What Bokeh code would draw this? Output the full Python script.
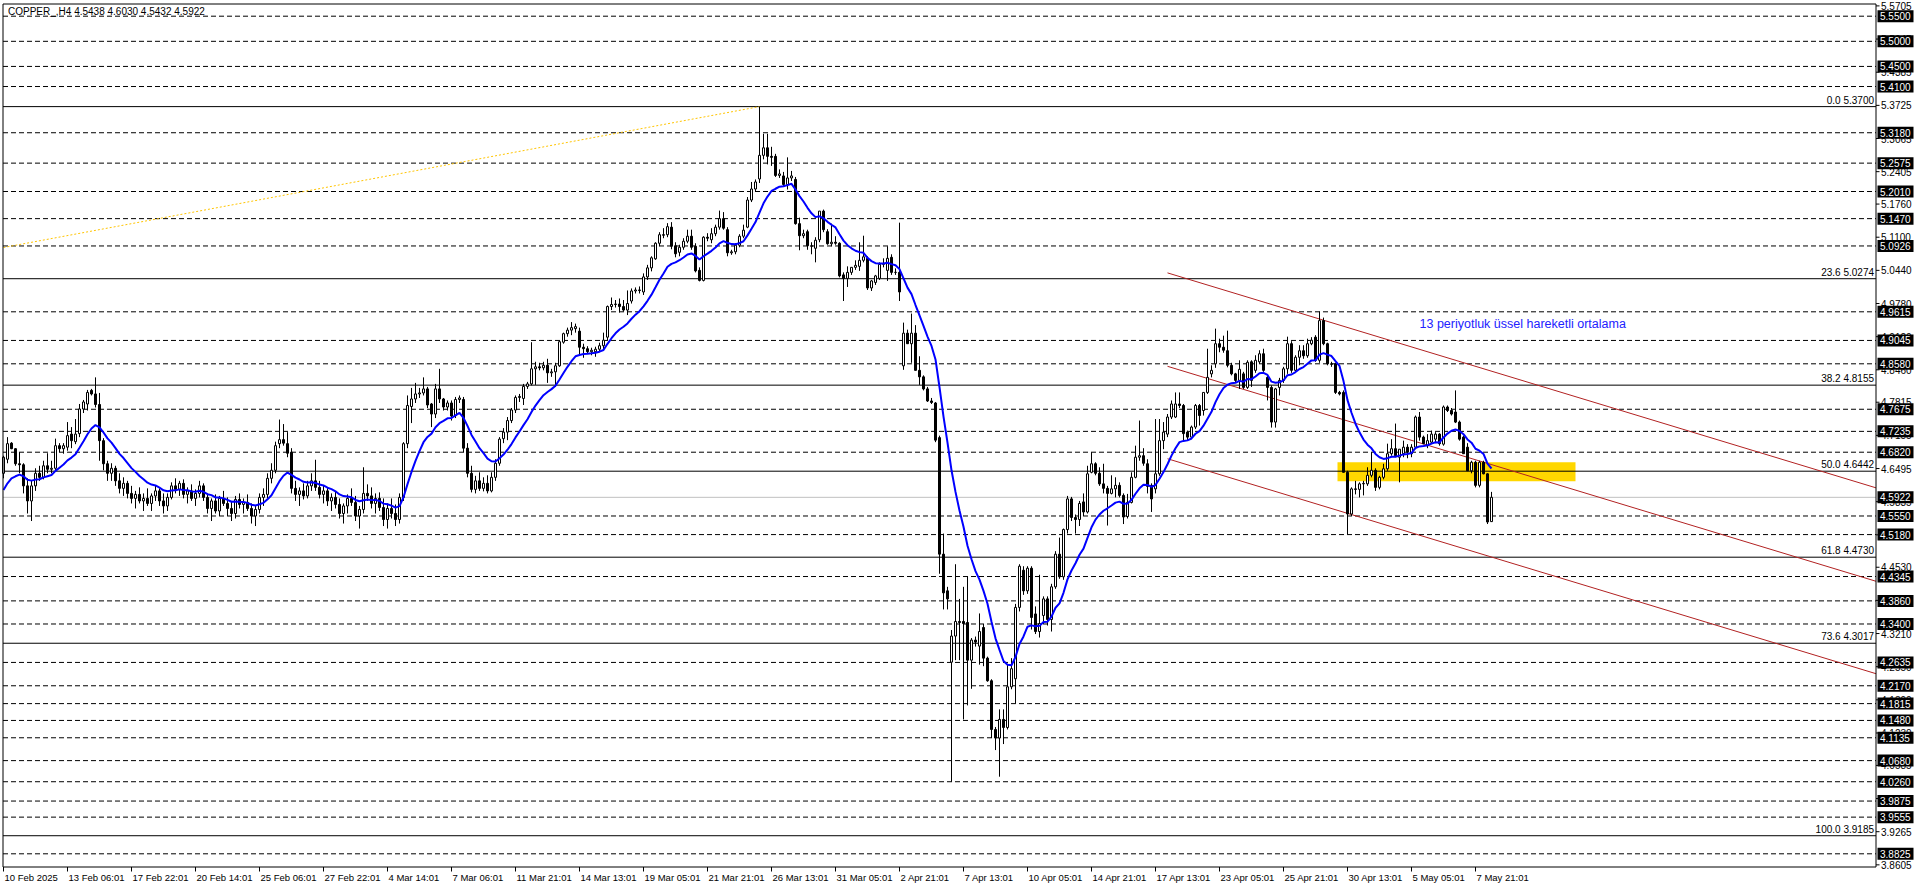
import pandas as pd
from bokeh.plotting import figure
from bokeh.models import Range1d
from bokeh.core.properties import value
from bokeh.embed import file_html
from bokeh.resources import INLINE

# ---------------- data ----------------
opens = [
4.640,4.668,4.700,4.689,4.659,4.657,4.615,4.585,4.615,4.640,
4.632,4.655,4.648,4.650,4.695,4.689,4.692,4.718,4.703,4.719,
4.768,4.778,4.805,4.798,4.777,4.705,4.659,4.640,4.650,4.625,
4.610,4.620,4.600,4.590,4.598,4.585,4.590,4.580,4.595,4.605,
4.585,4.575,4.592,4.615,4.608,4.620,4.598,4.605,4.590,4.600,
4.615,4.592,4.570,4.585,4.565,4.590,4.580,4.570,4.560,4.588,
4.578,4.582,4.570,4.555,4.568,4.592,4.598,4.630,4.646,4.699,
4.707,4.699,4.682,4.610,4.598,4.605,4.595,4.615,4.625,4.612,
4.598,4.605,4.585,4.592,4.578,4.560,4.575,4.590,4.582,4.555,
4.568,4.600,4.595,4.580,4.590,4.572,4.548,4.570,4.560,4.548,
4.592,4.699,4.773,4.788,4.798,4.800,4.808,4.778,4.758,4.808,
4.788,4.772,4.780,4.755,4.787,4.787,4.690,4.640,4.608,4.625,
4.610,4.620,4.605,4.632,4.660,4.709,4.722,4.745,4.766,4.791,
4.789,4.813,4.818,4.848,4.852,4.850,4.855,4.840,4.842,4.854,
4.901,4.918,4.925,4.928,4.923,4.891,4.888,4.882,4.882,4.887,
4.894,4.911,4.972,4.976,4.977,4.972,4.965,4.983,5.003,5.005,
5.001,5.031,5.049,5.067,5.098,5.115,5.115,5.130,5.093,5.080,
5.090,5.102,5.112,5.092,5.044,5.024,5.110,5.105,5.117,5.130,
5.147,5.125,5.079,5.081,5.094,5.112,5.130,5.184,5.206,5.226,
5.273,5.288,5.271,5.271,5.233,5.232,5.215,5.228,5.225,5.137,
5.113,5.121,5.093,5.088,5.105,5.162,5.121,5.097,5.100,5.098,
5.035,5.028,5.040,5.050,5.052,5.064,5.068,5.009,5.020,5.028,
5.056,5.044,5.070,5.040,5.040,4.854,4.919,4.898,4.919,4.845,
4.832,4.808,4.784,4.780,4.711,4.479,4.406,4.264,4.316,4.345,
4.345,4.343,4.268,4.308,4.296,4.333,4.272,4.227,4.130,4.113,
4.150,4.134,4.215,4.231,4.373,4.447,4.406,4.451,4.360,4.325,
4.357,4.390,4.349,4.414,4.479,4.434,4.528,4.589,4.552,4.548,
4.583,4.563,4.642,4.659,4.640,4.619,4.610,4.600,4.609,4.616,
4.596,4.554,4.582,4.632,4.672,4.675,4.659,4.616,4.609,4.639,
4.705,4.718,4.752,4.752,4.778,4.775,4.722,4.712,4.732,4.775,
4.765,4.801,4.838,4.858,4.898,4.891,4.884,4.855,4.838,4.825,
4.838,4.811,4.862,4.845,4.862,4.878,4.831,4.811,4.742,4.811,
4.825,4.848,4.898,4.845,4.871,4.884,4.874,4.898,4.911,4.865,
4.944,4.898,4.858,4.858,4.801,4.801,4.642,4.559,4.609,4.608,
4.619,4.619,4.636,4.646,4.612,4.632,4.649,4.679,4.689,4.672,
4.679,4.692,4.679,4.692,4.752,4.712,4.695,4.702,4.708,4.718,
4.698,4.772,4.765,4.762,4.742,4.712,4.692,4.645,4.662,4.616,
4.662,4.639,4.5438]
highs = [
4.675,4.712,4.702,4.690,4.682,4.660,4.630,4.625,4.650,4.655,
4.665,4.680,4.665,4.709,4.700,4.700,4.742,4.732,4.748,4.778,
4.786,4.806,4.808,4.831,4.800,4.710,4.665,4.660,4.655,4.640,
4.632,4.625,4.615,4.605,4.612,4.600,4.610,4.600,4.615,4.610,
4.600,4.600,4.622,4.630,4.625,4.628,4.612,4.618,4.608,4.625,
4.620,4.600,4.590,4.598,4.595,4.605,4.592,4.585,4.595,4.600,
4.590,4.598,4.580,4.575,4.600,4.610,4.640,4.660,4.703,4.747,
4.738,4.722,4.690,4.625,4.612,4.620,4.625,4.640,4.667,4.625,
4.615,4.612,4.600,4.605,4.590,4.580,4.598,4.610,4.595,4.575,
4.652,4.618,4.612,4.600,4.602,4.590,4.580,4.590,4.578,4.600,
4.702,4.795,4.810,4.820,4.810,4.831,4.812,4.780,4.818,4.848,
4.790,4.785,4.785,4.792,4.795,4.792,4.700,4.655,4.635,4.642,
4.632,4.636,4.642,4.668,4.712,4.730,4.752,4.770,4.795,4.798,
4.818,4.822,4.901,4.862,4.860,4.862,4.868,4.848,4.860,4.904,
4.920,4.930,4.941,4.938,4.930,4.898,4.893,4.890,4.892,4.900,
4.920,4.974,4.990,4.985,4.988,4.985,5.004,5.008,5.010,5.012,
5.038,5.055,5.072,5.100,5.120,5.128,5.138,5.140,5.100,5.095,
5.108,5.125,5.125,5.098,5.050,5.112,5.118,5.128,5.135,5.163,
5.160,5.130,5.085,5.098,5.116,5.135,5.190,5.220,5.225,5.370,
5.316,5.316,5.290,5.276,5.245,5.240,5.269,5.242,5.230,5.149,
5.125,5.125,5.100,5.110,5.162,5.165,5.126,5.137,5.112,5.100,
5.040,5.052,5.050,5.064,5.100,5.113,5.072,5.025,5.035,5.060,
5.068,5.092,5.076,5.048,5.139,4.940,4.926,4.958,4.935,4.873,
4.835,4.812,4.790,4.782,4.715,4.520,4.414,4.328,4.459,4.390,
4.414,4.434,4.312,4.315,4.361,4.340,4.275,4.230,4.135,4.170,
4.170,4.260,4.272,4.380,4.459,4.455,4.455,4.455,4.375,4.438,
4.395,4.395,4.420,4.485,4.512,4.530,4.595,4.593,4.558,4.585,
4.600,4.655,4.682,4.662,4.652,4.659,4.615,4.636,4.632,4.622,
4.600,4.599,4.642,4.695,4.745,4.690,4.668,4.620,4.748,4.748,
4.742,4.758,4.785,4.801,4.801,4.778,4.725,4.735,4.778,4.778,
4.798,4.888,4.855,4.928,4.908,4.914,4.924,4.860,4.840,4.865,
4.842,4.865,4.865,4.875,4.885,4.888,4.835,4.815,4.810,4.830,
4.852,4.912,4.903,4.875,4.895,4.895,4.908,4.911,4.915,4.962,
4.950,4.900,4.862,4.860,4.804,4.805,4.645,4.612,4.625,4.622,
4.625,4.652,4.682,4.650,4.635,4.659,4.699,4.708,4.739,4.688,
4.705,4.698,4.698,4.755,4.762,4.715,4.718,4.725,4.722,4.720,
4.775,4.775,4.770,4.805,4.745,4.715,4.700,4.665,4.665,4.665,
4.665,4.640,4.6030]
lows = [
4.630,4.660,4.688,4.655,4.640,4.600,4.560,4.545,4.605,4.625,
4.628,4.640,4.640,4.645,4.682,4.679,4.685,4.690,4.698,4.712,
4.760,4.765,4.795,4.771,4.665,4.646,4.625,4.625,4.615,4.600,
4.595,4.590,4.580,4.570,4.580,4.565,4.575,4.565,4.585,4.575,
4.560,4.565,4.588,4.600,4.595,4.590,4.580,4.585,4.575,4.592,
4.585,4.560,4.545,4.560,4.555,4.575,4.555,4.545,4.550,4.570,
4.560,4.565,4.540,4.535,4.560,4.575,4.590,4.620,4.640,4.690,
4.695,4.672,4.600,4.585,4.575,4.588,4.590,4.605,4.605,4.590,
4.580,4.575,4.565,4.570,4.550,4.540,4.560,4.575,4.545,4.530,
4.560,4.585,4.570,4.560,4.565,4.535,4.530,4.550,4.535,4.540,
4.585,4.690,4.740,4.780,4.790,4.795,4.770,4.732,4.750,4.780,
4.765,4.765,4.745,4.750,4.780,4.682,4.632,4.602,4.600,4.605,
4.604,4.600,4.602,4.625,4.655,4.700,4.706,4.740,4.760,4.782,
4.776,4.808,4.815,4.816,4.845,4.845,4.820,4.832,4.812,4.852,
4.898,4.912,4.915,4.920,4.875,4.870,4.878,4.875,4.872,4.882,
4.885,4.905,4.965,4.970,4.960,4.962,4.955,4.978,4.998,4.998,
4.995,5.025,5.042,5.065,5.092,5.108,5.110,5.086,5.070,5.072,
5.085,5.098,5.085,5.040,5.022,5.022,5.102,5.098,5.112,5.125,
5.125,5.072,5.075,5.076,5.090,5.108,5.128,5.180,5.200,5.218,
5.265,5.255,5.252,5.230,5.228,5.210,5.205,5.222,5.135,5.084,
5.108,5.085,5.076,5.060,5.100,5.120,5.095,5.092,5.095,5.030,
4.983,5.011,5.035,5.045,5.043,5.060,5.005,5.003,5.015,5.025,
5.050,5.023,5.035,5.035,4.983,4.846,4.898,4.860,4.845,4.816,
4.805,4.782,4.778,4.702,4.440,4.369,4.369,4.026,4.268,4.268,
4.150,4.178,4.211,4.295,4.259,4.256,4.225,4.113,4.089,4.036,
4.101,4.130,4.210,4.182,4.365,4.398,4.400,4.329,4.320,4.313,
4.340,4.337,4.325,4.410,4.430,4.428,4.520,4.545,4.520,4.535,
4.555,4.560,4.640,4.636,4.615,4.600,4.536,4.598,4.592,4.592,
4.539,4.550,4.580,4.630,4.665,4.655,4.600,4.563,4.600,4.635,
4.688,4.712,4.748,4.750,4.770,4.705,4.705,4.708,4.728,4.735,
4.755,4.798,4.831,4.850,4.881,4.880,4.851,4.835,4.821,4.808,
4.808,4.808,4.812,4.840,4.858,4.842,4.785,4.731,4.731,4.795,
4.820,4.838,4.840,4.840,4.855,4.868,4.870,4.895,4.862,4.860,
4.895,4.855,4.852,4.798,4.795,4.642,4.519,4.555,4.598,4.592,
4.596,4.615,4.632,4.605,4.608,4.628,4.645,4.675,4.672,4.622,
4.672,4.670,4.672,4.688,4.705,4.698,4.690,4.698,4.700,4.695,
4.695,4.762,4.755,4.740,4.705,4.679,4.645,4.640,4.612,4.612,
4.638,4.539,4.5432]
closes = [
4.672,4.699,4.689,4.659,4.657,4.615,4.585,4.615,4.640,4.632,
4.655,4.648,4.650,4.695,4.689,4.695,4.715,4.705,4.718,4.768,
4.782,4.801,4.798,4.777,4.705,4.659,4.640,4.650,4.625,4.610,
4.620,4.600,4.590,4.598,4.585,4.590,4.580,4.595,4.605,4.585,
4.575,4.592,4.615,4.608,4.620,4.598,4.605,4.590,4.600,4.615,
4.592,4.570,4.585,4.565,4.590,4.580,4.570,4.560,4.588,4.578,
4.582,4.570,4.555,4.568,4.592,4.598,4.630,4.646,4.695,4.707,
4.700,4.680,4.610,4.598,4.605,4.595,4.615,4.625,4.612,4.598,
4.605,4.585,4.592,4.578,4.560,4.575,4.590,4.582,4.555,4.568,
4.600,4.595,4.580,4.590,4.572,4.548,4.570,4.560,4.548,4.592,
4.699,4.775,4.788,4.798,4.800,4.808,4.776,4.758,4.808,4.788,
4.772,4.780,4.754,4.787,4.790,4.690,4.640,4.608,4.625,4.610,
4.620,4.605,4.632,4.660,4.708,4.722,4.745,4.766,4.791,4.793,
4.813,4.818,4.848,4.852,4.850,4.855,4.840,4.842,4.854,4.902,
4.918,4.925,4.930,4.932,4.891,4.888,4.882,4.885,4.887,4.894,
4.905,4.972,4.976,4.977,4.972,4.965,4.978,5.003,5.005,5.004,
5.031,5.049,5.069,5.098,5.115,5.114,5.131,5.092,5.077,5.090,
5.102,5.112,5.090,5.043,5.024,5.110,5.108,5.117,5.130,5.147,
5.128,5.079,5.081,5.094,5.112,5.124,5.184,5.206,5.220,5.273,
5.288,5.271,5.269,5.233,5.236,5.215,5.228,5.232,5.137,5.113,
5.117,5.093,5.092,5.104,5.162,5.125,5.097,5.100,5.098,5.033,
5.028,5.040,5.050,5.054,5.064,5.071,5.009,5.023,5.033,5.056,
5.056,5.068,5.040,5.040,5.001,4.919,4.898,4.919,4.845,4.832,
4.808,4.784,4.781,4.706,4.479,4.402,4.390,4.316,4.345,4.343,
4.341,4.268,4.308,4.304,4.325,4.272,4.227,4.130,4.113,4.150,
4.134,4.215,4.251,4.373,4.455,4.406,4.451,4.353,4.325,4.341,
4.390,4.349,4.414,4.479,4.434,4.528,4.589,4.552,4.548,4.580,
4.563,4.639,4.659,4.640,4.619,4.610,4.600,4.609,4.616,4.596,
4.553,4.582,4.632,4.672,4.675,4.660,4.614,4.589,4.639,4.705,
4.722,4.752,4.778,4.778,4.775,4.719,4.712,4.732,4.775,4.755,
4.801,4.831,4.845,4.898,4.891,4.885,4.855,4.838,4.825,4.847,
4.811,4.861,4.825,4.865,4.878,4.845,4.811,4.742,4.808,4.825,
4.848,4.898,4.845,4.871,4.884,4.874,4.898,4.905,4.865,4.944,
4.898,4.858,4.857,4.801,4.798,4.642,4.559,4.609,4.608,4.619,
4.620,4.636,4.646,4.612,4.632,4.649,4.679,4.689,4.675,4.688,
4.692,4.682,4.692,4.752,4.712,4.699,4.705,4.718,4.718,4.699,
4.772,4.765,4.758,4.742,4.708,4.679,4.645,4.662,4.616,4.662,
4.639,4.543,4.5922]

date_labels = ["10 Feb 2025", "13 Feb 06:01", "17 Feb 22:01", "20 Feb 14:01",
               "25 Feb 06:01", "27 Feb 22:01", "4 Mar 14:01", "7 Mar 06:01",
               "11 Mar 21:01", "14 Mar 13:01", "19 Mar 05:01", "21 Mar 21:01",
               "26 Mar 13:01", "31 Mar 05:01", "2 Apr 21:01", "7 Apr 13:01",
               "10 Apr 05:01", "14 Apr 21:01", "17 Apr 13:01", "23 Apr 05:01",
               "25 Apr 21:01", "30 Apr 13:01", "5 May 05:01", "7 May 21:01"]
date_label_bars = [0, 16, 32, 48, 64, 80, 96, 112, 128, 144, 160, 176,
                   192, 208, 224, 240, 256, 272, 288, 304, 320, 336, 352, 368]

level_prices = [5.5500, 5.5000, 5.4500, 5.4100, 5.3180, 5.2575, 5.2010, 5.1470,
                5.0926, 4.9615, 4.9045, 4.8580, 4.7675, 4.7235, 4.6820, 4.5550,
                4.5180, 4.4345, 4.3860, 4.3400, 4.2635, 4.2170, 4.1815, 4.1480,
                4.1135, 4.0680, 4.0260, 3.9875, 3.9555, 3.8825]
scale_ticks = [5.5705, 5.5045, 5.4385, 5.3725, 5.3065, 5.2405, 5.1760, 5.1100,
               5.0440, 4.9780, 4.9120, 4.8460, 4.7815, 4.7155, 4.6495, 4.5835,
               4.5175, 4.4530, 4.3870, 4.3210, 4.2550, 4.1890, 4.1230, 4.0585,
               3.9925, 3.9265, 3.8605]
fib_levels = ["0.0", "23.6", "38.2", "50.0", "61.8", "73.6", "100.0"]
fib_prices = [5.3700, 5.0274, 4.8155, 4.6442, 4.4730, 4.3017, 3.9185]
bid_price = 4.5922

ema_period = 13
ema_seed = 4.596          # EMA value at the left edge

channel_start_bar = 291
channel_start_prices = [5.039, 4.853, 4.669]   # upper, middle, lower
channel_slope = -0.002416                       # price per bar

fibo_trend_bars = [0, 189]
fibo_trend_prices = [5.0895, 5.3700]

zone_bars = [334, 393]
zone_prices = [4.6244, 4.6622]

note_text = "13 periyotluk üssel hareketli ortalama"
note_bar = 354
note_price = 4.938

title_text = "COPPER_,H4  4.5438 4.6030 4.5432 4.5922"

# ---------------- layout constants (pixels of the 1916x888 canvas) ----------------
W, H = 1916, 888
PX_BAR = 4.0          # pixels per bar, bar 0 at pixel 3
PX_PRICE = 0.0019908  # price per pixel, 5.55 at pixel 15.7

def bx(px):           # canvas x pixel -> bar coordinate
    return (px - 3.0) / PX_BAR

def py(px):           # canvas y pixel -> price coordinate
    return 5.55 - (px - 15.7) * PX_PRICE

FONT = "Liberation Sans"
n = len(closes)
assert len(opens) == n and len(highs) == n and len(lows) == n, (len(opens), len(highs), len(lows), n)
idx = list(range(n))

p = figure(width=W, height=H, output_backend="svg", toolbar_location=None,
           x_range=Range1d(bx(0), bx(W)), y_range=Range1d(py(H), py(0)),
           x_axis_location=None, y_axis_location=None,
           min_border=0, min_border_left=0, min_border_right=0, min_border_top=0, min_border_bottom=0,
           background_fill_color="white", border_fill_color="white")
p.outline_line_color = None
p.grid.visible = False

cl, cr = bx(2.5), bx(1875.5)     # chart area
ct, cb = py(3.5), py(866.5)

# yellow zone
p.quad(left=[zone_bars[0] - 0.5], right=[zone_bars[1]], bottom=[zone_prices[0]], top=[zone_prices[1]],
       fill_color="#ffd700", line_color=None)

# horizontal price levels
p.segment(x0=[cl] * len(level_prices), x1=[cr] * len(level_prices), y0=level_prices, y1=level_prices,
          line_color="black", line_width=1, line_dash="5 3")
p.segment(x0=[cl] * len(fib_prices), x1=[cr] * len(fib_prices), y0=fib_prices, y1=fib_prices,
          line_color="black", line_width=1)
p.segment(x0=[cl], x1=[cr], y0=[bid_price], y1=[bid_price], line_color="#c0c0c0", line_width=1)

# fibo trend line
p.line(fibo_trend_bars, fibo_trend_prices, line_color="#ffc400", line_width=1, line_dash="2 2")

# channel
p.segment(x0=[channel_start_bar] * 3, y0=channel_start_prices,
          x1=[cr] * 3, y1=[v + channel_slope * (cr - channel_start_bar) for v in channel_start_prices],
          line_color="#b22222", line_width=1)

# candles
p.segment(x0=idx, x1=idx, y0=lows, y1=highs, line_color="black", line_width=1)
tops = [max(o, c) for o, c in zip(opens, closes)]
bots = [min(o, c) for o, c in zip(opens, closes)]
fills = ["white" if c >= o else "black" for o, c in zip(opens, closes)]
p.vbar(x=idx, width=0.5, top=tops, bottom=bots, fill_color=fills, line_color="black", line_width=1)

# EMA 13
ema = pd.Series([ema_seed] + closes).ewm(span=ema_period, adjust=False).mean().tolist()[1:]
p.line(idx, ema, line_color="#0000ff", line_width=2)

# chart frame
p.quad(left=[cl], right=[cr], bottom=[cb], top=[ct], fill_color=None, line_color="black", line_width=1)

# fib labels
p.text(x=[cr] * len(fib_prices), y=fib_prices,
       text=[f"{l} {v:.4f}" for l, v in zip(fib_levels, fib_prices)],
       text_align="right", text_baseline="bottom", x_offset=-2, y_offset=-1,
       text_font=value(FONT), text_font_size="10px", text_color="black")

# note
p.text(x=[note_bar], y=[note_price], text=[note_text], text_align="left", text_baseline="middle",
       text_font=value(FONT), text_font_size="12.5px", text_color="#2222ff")

# title
p.text(x=[cl], y=[ct], text=[title_text], text_align="left", text_baseline="middle",
       x_offset=5, y_offset=7, text_font=value(FONT), text_font_size="10px", text_color="black")

# ---- right price scale ----
p.segment(x0=[cr] * len(scale_ticks), x1=[bx(1879)] * len(scale_ticks), y0=scale_ticks, y1=scale_ticks,
          line_color="black", line_width=1)
p.text(x=[cr] * len(scale_ticks), y=scale_ticks, text=[f"{v:.4f}" for v in scale_ticks],
       text_align="left", text_baseline="middle", x_offset=5,
       text_font=value(FONT), text_font_size="10px", text_color="black")
tags = level_prices + [bid_price]
p.rect(x=[bx(1895)] * len(tags), y=tags, width=36, height=12, width_units="screen", height_units="screen",
       fill_color="black", line_color=None)
p.text(x=[cr] * len(tags), y=tags, text=[f"{v:.4f}" for v in tags],
       text_align="left", text_baseline="middle", x_offset=4,
       text_font=value(FONT), text_font_size="10px", text_color="white")

# ---- bottom time scale ----
p.segment(x0=date_label_bars, x1=date_label_bars, y0=[cb] * len(date_label_bars), y1=[py(871)] * len(date_label_bars),
          line_color="black", line_width=1)
p.text(x=date_label_bars, y=[cb] * len(date_label_bars), text=date_labels,
       text_align="left", text_baseline="top", x_offset=1, y_offset=4.5,
       text_font=value(FONT), text_font_size="9.5px", text_color="black")

open("out.html", "w").write(file_html(p, INLINE))
